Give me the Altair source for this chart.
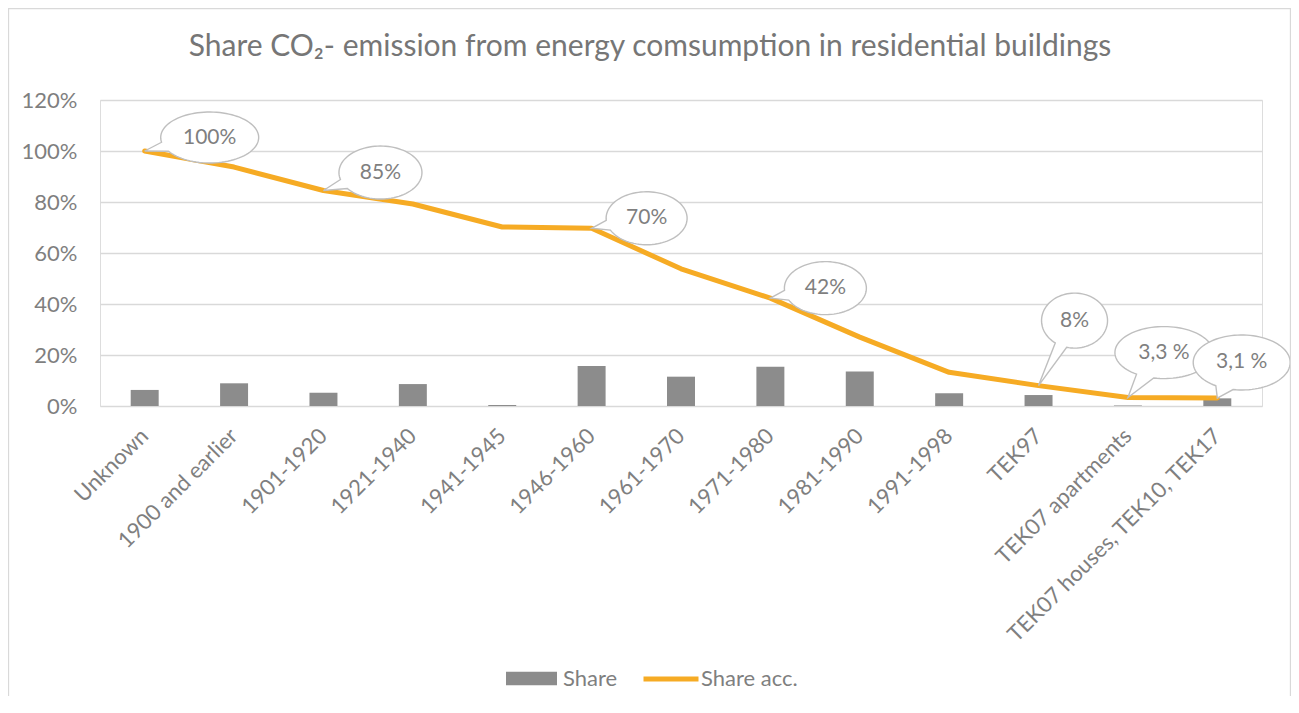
import math
import altair as alt
import pandas as pd

# ---------------- data ----------------
categories = [
    "Unknown", "1900 and earlier", "1901-1920", "1921-1940", "1941-1945",
    "1946-1960", "1961-1970", "1971-1980", "1981-1990", "1991-1998",
    "TEK97", "TEK07 apartments", "TEK07 houses, TEK10, TEK17",
]
share = [0.063, 0.089, 0.052, 0.086, 0.004, 0.157, 0.115, 0.154, 0.135,
         0.050, 0.043, 0.002, 0.030]
share_acc = [1.000, 0.937, 0.845, 0.792, 0.702, 0.697, 0.538, 0.423, 0.270,
             0.132, 0.080, 0.033, 0.031]

callout_categories = ["Unknown", "1901-1920", "1946-1960", "1971-1980",
                      "TEK97", "TEK07 apartments", "TEK07 houses, TEK10, TEK17"]
callout_labels = ["100%", "85%", "70%", "42%", "8%", "3,3 %", "3,1 %"]

# callout bubble styling: ellipse centre offset from the pointed-at value (px) and ellipse size (px)
callout_style = [
    (65, -13.5, 98, 51),
    (57, -18, 83, 53),
    (55, -10, 81, 53),
    (55, -10, 82, 53),
    (36, -65, 66, 55),
    (36, -45, 98, 52),
    (24.4, -35.6, 97, 55),
]

TITLE = "Share CO\u2082- emission from energy comsumption in residential buildings"

GRAY_TEXT = "#7f7f7f"
BAR_COLOR = "#8c8c8c"
LINE_COLOR = "#f6ab24"
GRID = "#d9d9d9"
FONT = "Lato"

W, H = 1162, 306


def bubble_path(cx, cy, w, h, spread=math.radians(11), n=90):
    a, b = w / 2.0, h / 2.0
    t0 = math.atan2(-cy / b, -cx / a)
    pts = []
    for i in range(n + 1):
        t = t0 + spread + (2 * math.pi - 2 * spread) * i / n
        pts.append((cx + a * math.cos(t), cy + b * math.sin(t)))
    pts.append((0.0, 0.0))
    return "M " + " L ".join(f"{x:.2f} {y:.2f}" for x, y in pts) + " Z"


df = pd.DataFrame({"category": categories, "share": share, "acc": share_acc})
callouts = pd.DataFrame({"category": callout_categories, "label": callout_labels})
callouts = callouts.merge(df[["category", "acc"]], on="category", how="left")

x_axis = alt.Axis(
    title=None, labelAngle=-45, labelAlign="right", labelBaseline="middle",
    labelPadding=26, labelFontSize=22, labelColor=GRAY_TEXT, labelFont=FONT,
    ticks=False, domain=False, grid=False, labelLimit=0, labelOverlap=False,
)
x_enc = alt.X("category:N", sort=categories,
              scale=alt.Scale(paddingInner=0.687, paddingOuter=0.3435),
              axis=x_axis)

y_axis = alt.Axis(
    title=None, values=[0, 0.2, 0.4, 0.6, 0.8, 1.0, 1.2], format=".0%",
    labelFontSize=22, labelColor=GRAY_TEXT, labelFont=FONT, labelPadding=23,
    ticks=False, domain=False, grid=True, gridColor=GRID, gridWidth=1.3,
)
y_scale = alt.Scale(domain=[0, 1.2], nice=False)

base = alt.Chart(df)

bars = base.mark_bar().transform_calculate(series="'Share'").encode(
    x=x_enc,
    y=alt.Y("share:Q", scale=y_scale, axis=y_axis),
    color=alt.Color(
        "series:N", scale=alt.Scale(range=[BAR_COLOR]),
        legend=alt.Legend(
            title=None, orient="none", legendX=406, legendY=553, padding=0,
            symbolType="M -1 -0.26 L 1 -0.26 L 1 0.26 L -1 0.26 Z",
            symbolSize=2601, symbolStrokeWidth=0, symbolOpacity=1,
            labelFontSize=22, labelColor=GRAY_TEXT, labelFont=FONT, labelOffset=6,
        ),
    ),
)

line = base.mark_line(strokeWidth=5, strokeJoin="round", strokeCap="round").transform_calculate(
    series2="'Share acc.'"
).encode(
    x=x_enc,
    y=alt.Y("acc:Q", scale=y_scale, axis=y_axis),
    stroke=alt.Stroke(
        "series2:N", scale=alt.Scale(range=[LINE_COLOR]),
        legend=alt.Legend(
            title=None, orient="none", legendX=541, legendY=549, padding=0,
            symbolType="stroke", symbolSize=3025, symbolStrokeWidth=5,
            labelFontSize=22, labelColor=GRAY_TEXT, labelFont=FONT, labelOffset=0,
        ),
    ),
)

layers = [bars, line]
for cat, (cx, cy, w, h) in zip(callout_categories, callout_style):
    c = alt.Chart(callouts).transform_filter(alt.datum.category == cat)
    bubble = c.mark_point(
        shape=bubble_path(cx, cy, w, h), size=4, filled=True, fill="white",
        stroke="#bfbfbf", strokeWidth=1.4, opacity=1, fillOpacity=1, strokeOpacity=1,
    ).encode(x=x_enc, y=alt.Y("acc:Q", scale=y_scale, axis=y_axis))
    text = c.mark_text(
        dx=cx, dy=cy, align="center", baseline="middle", fontSize=21,
        font=FONT, color=GRAY_TEXT,
    ).encode(x=x_enc, y=alt.Y("acc:Q", scale=y_scale, axis=y_axis), text="label:N")
    layers += [bubble, text]

frame = alt.Chart(alt.Data(values=[{}])).mark_rect(
    fill="transparent", stroke=GRID, strokeWidth=1.3
).encode(
    x=alt.value(-91.5), x2=alt.value(1190.5), y=alt.value(-91.5), y2=alt.value(800)
)
layers.append(frame)

chart = alt.layer(*layers).properties(
    width=W, height=H,
    title=alt.TitleParams(
        TITLE, font=FONT, fontSize=30, fontWeight="normal", color="#767676",
        anchor="middle", dx=-31, offset=-78, baseline="alphabetic",
    ),
    autosize=alt.AutoSizeParams(type="none"),
    padding={"left": 92, "top": 92, "right": 29, "bottom": 290},
).resolve_scale(color="independent", stroke="independent").configure_view(stroke=None).configure(font=FONT)

chart.save("out.html", embed_options={"renderer": "svg", "actions": False})
